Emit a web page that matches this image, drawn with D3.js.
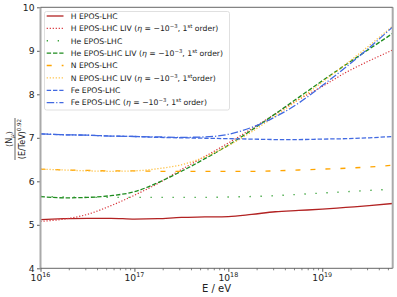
<!DOCTYPE html>
<html><head><meta charset="utf-8">
<script src="https://cdn.jsdelivr.net/npm/d3@7"></script>
<style>body{margin:0;background:#fff}svg{display:block}text{font-family:"DejaVu Sans",sans-serif;fill:#222}</style>
</head><body><svg id="c" width="397" height="297"></svg>
<script>
const energies = [1e16,1.778e16,3.162e16,5.623e16,1e17,1.778e17,3.162e17,5.623e17,1e18,1.778e18,3.162e18,5.623e18,1e19,1.778e19,3.162e19,5.623e19];
const hStd   = [5.12,5.14,5.15,5.15,5.13,5.14,5.17,5.18,5.19,5.24,5.30,5.33,5.36,5.40,5.44,5.49];
const hLiv   = [5.08,5.13,5.24,5.44,5.68,5.95,6.27,6.57,6.88,7.21,7.55,7.88,8.18,8.50,8.77,9.02];
const heStd  = [5.65,5.64,5.63,5.63,5.63,5.63,5.63,5.63,5.64,5.65,5.67,5.70,5.73,5.76,5.79,5.82];
const heLiv  = [5.65,5.62,5.63,5.67,5.76,5.97,6.23,6.52,6.83,7.18,7.55,7.93,8.31,8.68,9.04,9.40];
const nStd   = [6.28,6.26,6.25,6.24,6.24,6.23,6.23,6.23,6.23,6.23,6.24,6.26,6.28,6.30,6.33,6.37];
const nLiv   = [6.28,6.26,6.24,6.23,6.24,6.29,6.38,6.56,6.82,7.14,7.50,7.88,8.28,8.69,9.12,9.57];
const feStd  = [7.09,7.07,7.06,7.04,7.03,7.01,7.00,6.99,6.98,6.97,6.96,6.96,6.97,6.98,7.00,7.03];
const feLiv  = [7.09,7.07,7.06,7.04,7.03,7.02,7.01,7.02,7.08,7.24,7.48,7.80,8.20,8.62,9.07,9.55];
const xTicks = [1e16,1e17,1e18,1e19];
const xTickExp = ["16","17","18","19"];
const yTicks = [4,5,6,7,8,9,10];

const series = [
 {name:"H EPOS-LHC", liv:false, vals:hStd, color:"#b22222", dash:null, w:1.3},
 {name:"H EPOS-LHC LIV (", liv:true, nospace:false, vals:hLiv, color:"#d9343a", dash:"1.2,1.8", w:1.2},
 {name:"He EPOS-LHC", liv:false, vals:heStd, color:"#3aa33a", dash:"1.3,9.7", w:1.4},
 {name:"He EPOS-LHC LIV (", liv:true, vals:heLiv, color:"#1e8c1e", dash:"4.4,1.9", w:1.3},
 {name:"N EPOS-LHC", liv:false, vals:nStd, color:"#ffa500", dash:"5,10", w:1.3},
 {name:"N EPOS-LHC LIV (", liv:true, nospace:true, vals:nLiv, color:"#ffc040", dash:"1.2,1.8", w:1.3},
 {name:"Fe EPOS-LHC", liv:false, vals:feStd, color:"#4169e1", dash:"4.4,1.9", w:1.3},
 {name:"Fe EPOS-LHC (", liv:true, vals:feLiv, color:"#4169e1", dash:"7.5,2,1.2,2", w:1.3}
];

const svg = d3.select("#c");
const L=40.5, R=392.7, T=7.3, B=268.3;
const x = d3.scaleLog().domain([1e16, 5.623e19]).range([L,R]);
const y = d3.scaleLinear().domain([4,10]).range([B,T]);

svg.append("defs").append("clipPath").attr("id","clip").append("rect")
  .attr("x",L).attr("y",T).attr("width",R-L).attr("height",B-T);

const line = d3.line().x((d,i)=>x(energies[i])).y(d=>y(d)).curve(d3.curveMonotoneX);
const g = svg.append("g").attr("clip-path","url(#clip)");
series.forEach(s=>{
  g.append("path").attr("d",line(s.vals)).attr("fill","none")
   .attr("stroke",s.color).attr("stroke-width",s.w)
   .attr("stroke-dasharray",s.dash);
});

// axes
const xAxis = d3.axisBottom(x).tickValues(xTicks).tickSize(3.5).tickFormat("");
const gx = svg.append("g").attr("transform",`translate(0,${B})`).call(xAxis);
gx.select(".domain").remove();
gx.selectAll("line").attr("stroke","#333").attr("stroke-width",0.8);
const minor=[];
for(let e=16;e<=19;e++) for(let m=2;m<=9;m++){const v=m*Math.pow(10,e); if(v<=5.623e19) minor.push(v);}
const gxm = svg.append("g").attr("transform",`translate(0,${B})`).call(d3.axisBottom(x).tickValues(minor).tickSize(2).tickFormat(""));
gxm.select(".domain").remove();
gxm.selectAll("line").attr("stroke","#333").attr("stroke-width",0.6);
xTicks.forEach((t,i)=>{
  const tx = svg.append("text").attr("x",x(t)).attr("y",280.5).attr("text-anchor","middle").attr("font-size",9.2);
  tx.append("tspan").text("10");
  tx.append("tspan").attr("dy",-3.6).attr("font-size",6.4).text(xTickExp[i]);
});
const gy = svg.append("g").attr("transform",`translate(${L},0)`).call(d3.axisLeft(y).tickValues(yTicks).tickSize(3.5).tickPadding(2.5).tickFormat(d3.format("d")));
gy.select(".domain").remove();
gy.selectAll("line").attr("stroke","#333").attr("stroke-width",0.8);
gy.selectAll("text").attr("font-size",9.2).style("font-family","DejaVu Sans").attr("fill","#222");

// spines
svg.append("line").attr("x1",L).attr("x2",L).attr("y1",T).attr("y2",B).attr("stroke","#aaa").attr("stroke-width",2);
svg.append("line").attr("x1",R).attr("x2",R).attr("y1",T).attr("y2",B).attr("stroke","#aaa").attr("stroke-width",2);
svg.append("line").attr("x1",L).attr("x2",R).attr("y1",T).attr("y2",T).attr("stroke","#555").attr("stroke-width",0.9);
svg.append("line").attr("x1",L).attr("x2",R).attr("y1",B).attr("y2",B).attr("stroke","#555").attr("stroke-width",0.9);

// x label
svg.append("text").attr("x",(L+R)/2).attr("y",292).attr("text-anchor","middle").attr("font-size",10).text("E / eV");

// y label (fraction)
const yl = svg.append("g").attr("transform","translate(0,139) rotate(-90)");
const num = yl.append("text").attr("x",0).attr("y",12).attr("text-anchor","middle").attr("font-size",8);
num.append("tspan").text("⟨N");
num.append("tspan").attr("dy",2).attr("font-size",5.6).attr("font-style","italic").text("μ");
num.append("tspan").attr("dy",-2).text("⟩");
yl.append("line").attr("x1",-21).attr("x2",21).attr("y1",15).attr("y2",15).attr("stroke","#222").attr("stroke-width",0.7);
const den = yl.append("text").attr("x",0).attr("y",24.5).attr("text-anchor","middle").attr("font-size",8);
den.append("tspan").text("(E/TeV)");
den.append("tspan").attr("dy",-3.3).attr("font-size",5.6).text("0.92");

// legend
const lg = svg.append("g");
lg.append("rect").attr("x",44.5).attr("y",11.5).attr("width",185).attr("height",98.5).attr("rx",2)
  .attr("fill","#fff").attr("fill-opacity",0.85).attr("stroke","#d8d8d8").attr("stroke-width",0.8);
const ly0=16, ldy=12.38;
series.forEach((s,i)=>{
  const yy = ly0 + i*ldy;
  lg.append("line").attr("x1",46.7).attr("x2",63.5).attr("y1",yy).attr("y2",yy)
    .attr("stroke",s.color).attr("stroke-width",s.w).attr("stroke-dasharray",s.dash);
  const t = lg.append("text").attr("x",70.7).attr("y",yy+2.8).attr("font-size",7.7);
  t.append("tspan").text(s.name);
  if(s.liv){
    t.append("tspan").attr("font-style","italic").text("η");
    t.append("tspan").text(" = −10");
    t.append("tspan").attr("dy",-3).attr("font-size",5.4).text("−3");
    t.append("tspan").attr("dy",3).text(", 1");
    t.append("tspan").attr("dy",-3).attr("font-size",5.4).text("st");
    t.append("tspan").attr("dy",3).text(s.nospace?"order)":" order)");
  }
});
</script></body></html>
